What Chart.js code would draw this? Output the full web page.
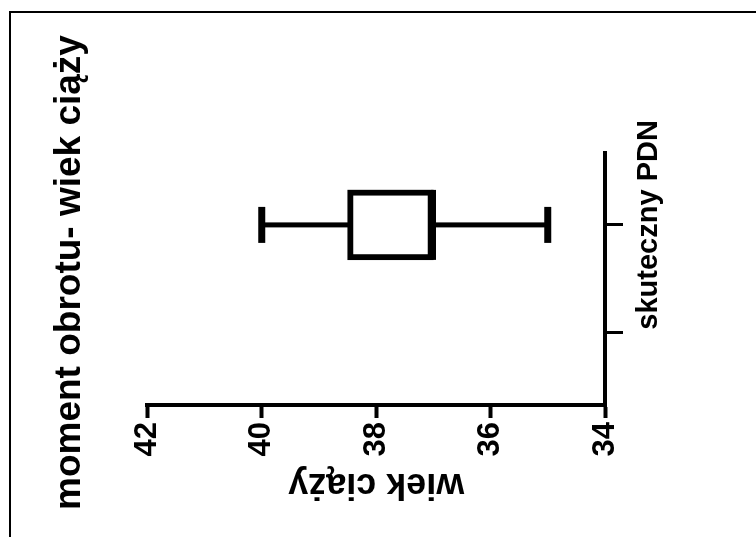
<!DOCTYPE html>
<html>
<head>
<meta charset="utf-8">
<script src="https://cdn.jsdelivr.net/npm/chart.js@4.4.0/dist/chart.umd.min.js"></script>
<style>
  html, body { margin: 0; padding: 0; background: #fff; overflow: hidden; }
  #frame { position: absolute; left: 9px; top: 11px; width: 747px; height: 526px;
           border-left: 2px solid #000; border-top: 2px solid #000; }
  /* the plot is laid out upright and turned a quarter turn counter-clockwise */
  #turn { position: absolute; left: 0; top: 0; width: 537px; height: 756px;
          transform-origin: 0 0; transform: translate(0, 537px) rotate(-90deg); }
</style>
</head>
<body>
<div id="frame"></div>
<div id="turn"><canvas id="boxChart" width="537" height="756"></canvas></div>
<script>
// groups on the category axis (first slot is left empty)
var categories = ['', 'skuteczny PDN'];
// box plot summary per group
var whiskerLow  = [null, 35];
var boxLow      = [null, 37];
var medians     = [null, 37];
var boxHigh     = [null, 38.5];
var whiskerHigh = [null, 40];
// value axis ticks
var valueTicks = [34, 36, 38, 40, 42];

var boxes = [], whiskers = [], caps = [], mids = [];
categories.forEach(function (c, i) {
    if (boxLow[i] === null) return;
    boxes.push({ x: i, y: [boxLow[i], boxHigh[i]] });
    whiskers.push({ x: i, y: whiskerLow[i] }, { x: i, y: whiskerHigh[i] }, { x: i, y: null });
    caps.push({ x: i, y: whiskerLow[i] }, { x: i, y: whiskerHigh[i] });
    mids.push({ x: i, y: medians[i] });
});

Chart.defaults.font.family = "'Liberation Sans', Arial, sans-serif";
Chart.defaults.font.weight = 'bold';
Chart.defaults.color = '#000';

var ctxBox = document.getElementById('boxChart').getContext('2d');
var boxChart = new Chart(ctxBox, {
    type: 'bar',
    data: {
        datasets: [
            {
                type: 'line',
                data: whiskers,
                borderColor: '#000',
                borderWidth: 5,
                pointRadius: 0,
                spanGaps: false,
                order: 3
            },
            {
                type: 'bar',
                data: boxes,
                backgroundColor: '#fff',
                borderColor: '#000',
                borderWidth: 6,
                borderSkipped: false,
                barThickness: 70,
                order: 2
            },
            {
                type: 'scatter',
                data: caps,
                pointStyle: 'line',
                pointRadius: 18,
                pointBorderWidth: 7,
                pointBorderColor: '#000',
                order: 1
            },
            {
                type: 'scatter',
                data: mids,
                pointStyle: 'line',
                pointRadius: 35,
                pointBorderWidth: 5,
                pointBorderColor: '#000',
                order: 0
            }
        ]
    },
    options: {
        responsive: false,
        animation: false,
        events: [],
        layout: {
            padding: { left: 27, right: 0, top: 0, bottom: 0 }
        },
        plugins: {
            legend: { display: false },
            tooltip: { enabled: false },
            title: {
                display: true,
                text: 'moment obrotu- wiek ciąży',
                align: 'start',
                color: '#000',
                font: { size: 37, weight: 'bold' },
                padding: { top: 48, bottom: 55 }
            }
        },
        scales: {
            x: {
                type: 'linear',
                min: -0.68,
                max: 1.68,
                offset: false,
                afterBuildTicks: function (scale) {
                    scale.ticks = categories.map(function (c, i) { return { value: i }; });
                },
                afterFit: function (scale) { scale.height = 151; },
                ticks: {
                    autoSkip: false,
                    maxRotation: 0,
                    minRotation: 0,
                    padding: 9,
                    font: { size: 29 },
                    callback: function (value) { return categories[value]; }
                },
                grid: {
                    offset: false,
                    drawOnChartArea: false,
                    drawTicks: true,
                    tickLength: 18,
                    tickWidth: 3,
                    tickColor: '#000'
                },
                border: { color: '#000', width: 4 }
            },
            y: {
                min: 34,
                max: 42,
                afterBuildTicks: function (scale) {
                    scale.ticks = valueTicks.map(function (v) { return { value: v }; });
                },
                afterFit: function (scale) { scale.width = 105; },
                ticks: {
                    padding: 4,
                    font: { size: 31 }
                },
                grid: {
                    drawOnChartArea: false,
                    drawTicks: true,
                    tickLength: 13,
                    tickWidth: 4,
                    tickColor: '#000'
                },
                border: { color: '#000', width: 4 },
                title: {
                    display: true,
                    text: 'wiek ciąży',
                    font: { size: 36 },
                    padding: { top: 4 }
                }
            },
            yRight: {
                position: 'right',
                afterFit: function (scale) { scale.width = 152; },
                ticks: { display: false },
                grid: { display: false },
                border: { display: false }
            }
        }
    }
});
</script>
</body>
</html>
